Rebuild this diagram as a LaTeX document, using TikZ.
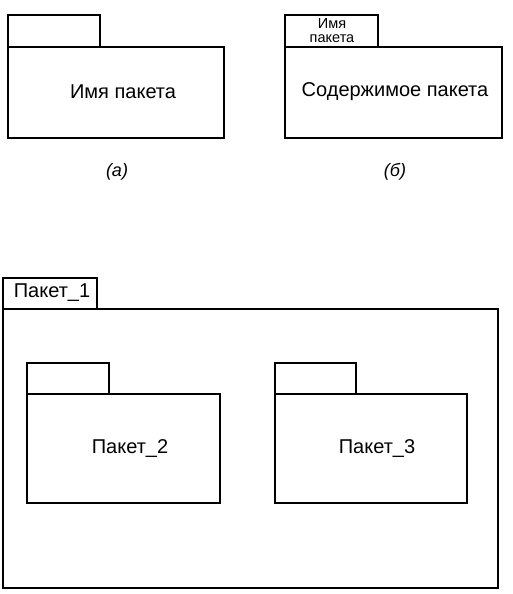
\documentclass[tikz,border=0pt]{standalone}
\usepackage{fontspec}
\setmainfont{Liberation Sans}
\begin{document}
\begin{tikzpicture}[x=1pt,y=-1pt,
  box/.style={draw=black,line width=1.3pt},
  lbl/.style={inner sep=0pt,text=black},
  big/.style={font=\fontsize{20}{24}\selectfont},
  small/.style={font=\fontsize{14.5}{13}\selectfont,anchor=base},
  figcaption/.style={font=\fontsize{18}{21}\selectfont\itshape}]
\useasboundingbox (0,0) rectangle (513,594);
% (a)
\draw[box] (8,47) rectangle (224,138);
\draw[box] (8,47) -- (8,15) -- (100,15) -- (100,47);
\node[lbl,big] (na) at (123,92) {Имя пакета};
\node[lbl,figcaption] (ca) at (117,172) {(а)};
% (b)
\draw[box] (285,47) rectangle (502,138);
\draw[box] (285,47) -- (285,15) -- (378,15) -- (378,47);
\node[lbl,small] (tb1) at (332,28.5) {Имя};
\node[lbl,small] (tb2) at (332,43) {пакета};
\node[lbl,big] (nb) at (395,92) {Содержимое пакета};
\node[lbl,figcaption] (cb) at (395,172) {(б)};
% Paket_1
\draw[box] (3,309) rectangle (498,588);
\draw[box] (3,309) -- (3,278) -- (97,278) -- (97,309);
\node[lbl,big] (p1) at (52,293) {Пакет\_1};
% Paket_2
\draw[box] (27,394) rectangle (220,503);
\draw[box] (27,394) -- (27,363) -- (109,363) -- (109,394);
\node[lbl,big] (p2) at (130,448) {Пакет\_2};
% Paket_3
\draw[box] (275,394) rectangle (467,503);
\draw[box] (275,394) -- (275,363) -- (356,363) -- (356,394);
\node[lbl,big] (p3) at (377,448) {Пакет\_3};
\end{tikzpicture}
\end{document}
